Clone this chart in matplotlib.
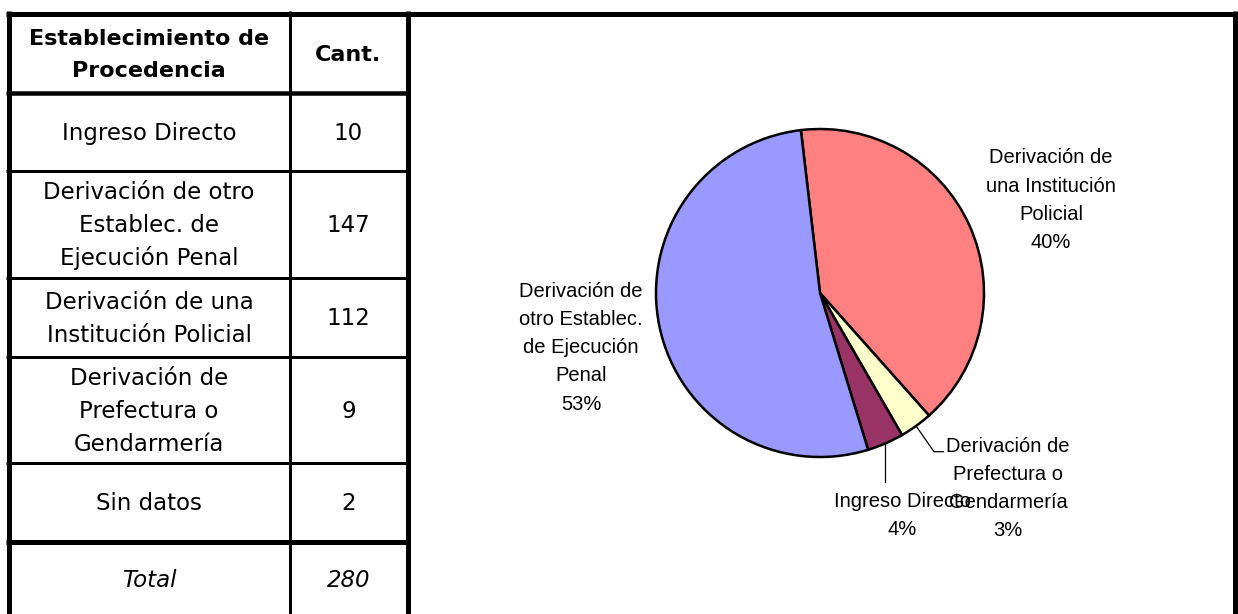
import matplotlib
matplotlib.use("Agg")
import matplotlib.pyplot as plt
import numpy as np

# ---------------- data ----------------
header_labels = ["Establecimiento de\nProcedencia", "Cant."]
table_labels = ["Ingreso Directo",
                "Derivación de otro\nEstablec. de\nEjecución Penal",
                "Derivación de una\nInstitución Policial",
                "Derivación de\nPrefectura o\nGendarmería",
                "Sin datos"]
table_counts = [10, 147, 112, 9, 2]
total_label = "Total"

pie_labels = ["Derivación de\nuna Institución\nPolicial",
              "Derivación de\nPrefectura o\nGendarmería",
              "Ingreso Directo",
              "Derivación de\notro Establec.\nde Ejecución\nPenal"]
pie_values = [112, 9, 10, 147]
pie_colors = ["#FF8080", "#FFFFCC", "#993366", "#9999FF"]

# ---------------- layout ----------------
W, H = 1238, 614
fig = plt.figure(figsize=(W / 100, H / 100), dpi=100)
ax = fig.add_axes([0, 0, 1, 1])


def Y(y):
    return H - y


def lw(px):
    return px * 0.72


def draw_lines(x, first_baseline, text, spacing, **kw):
    for i, line in enumerate(text.split("\n")):
        ax.text(x, Y(first_baseline + i * spacing), line, ha="center",
                va="baseline", **kw)


# pie
pie_center = (820, Y(293))
pie_radius = 164
wedges, _ = ax.pie(pie_values, colors=pie_colors, startangle=96.7,
                   counterclock=False, center=pie_center, radius=pie_radius,
                   wedgeprops=dict(edgecolor="black", linewidth=1.8),
                   frame=True)
ax.set_xlim(0, W)
ax.set_ylim(0, H)
ax.set_aspect("auto")
ax.axis("off")

# table grid
row_edges = [13.5, 92.5, 170.5, 277.5, 356.5, 462.5, 541.5]
row_line_px = [5, 4.5, 3, 3, 3, 3, 5]
col_edges = [8.5, 289.5, 407.5]
col_line_px = [5, 3, 5]
box_right = 1234.5

for y, p in zip(row_edges, row_line_px):
    x1 = box_right + 2.5 if y == row_edges[0] else col_edges[-1]
    ax.plot([col_edges[0] - 2.5, x1], [Y(y), Y(y)], color="black",
            lw=lw(p), solid_capstyle="butt")
for x, p in zip(col_edges + [box_right], col_line_px + [5]):
    ax.plot([x, x], [Y(row_edges[0] - 2.5), Y(H + 10)], color="black",
            lw=lw(p), solid_capstyle="butt")

col_centers = [(col_edges[0] + col_edges[1]) / 2, (col_edges[1] + col_edges[2]) / 2]
row_edges_full = row_edges + [616]

tfont = dict(family="DejaVu Sans", fontsize=16.5, color="black")
cap_t = 16.7
sp_t = 33


def cell_text(col, row, text, **kw):
    yc = (row_edges_full[row] + row_edges_full[row + 1]) / 2
    n = len(text.split("\n"))
    first = yc - (n - 1) / 2 * sp_t + cap_t / 2
    draw_lines(col_centers[col], first, text, sp_t, **kw)


hfont = dict(family="DejaVu Sans", fontsize=16, fontweight="bold", color="black")
for c, lab in enumerate(header_labels):
    yc = (row_edges_full[0] + row_edges_full[1]) / 2
    n = len(lab.split("\n"))
    first = yc - (n - 1) / 2 * 32.5 + 8
    draw_lines(col_centers[c], first, lab, 32.5, **hfont)

for i, (lab, v) in enumerate(zip(table_labels, table_counts)):
    cell_text(0, i + 1, lab, **tfont)
    cell_text(1, i + 1, str(v), **tfont)
cell_text(0, len(table_labels) + 1, total_label, style="italic", **tfont)
cell_text(1, len(table_labels) + 1, str(sum(table_counts)), style="italic", **tfont)

# pie labels
total_pie = sum(pie_values)
label_x = [1051, 1008, 902, 581]
label_first_baseline = [163.3, 451.7, 506.7, 296.7]
pfont = dict(family="Liberation Sans", fontsize=14.5, color="black")
for lab, v, x, b in zip(pie_labels, pie_values, label_x, label_first_baseline):
    txt = lab + "\n" + f"{round(100 * v / total_pie)}%"
    draw_lines(x, b, txt, 28.2, **pfont)

# leader lines
def edge_point(w):
    t = np.deg2rad((w.theta1 + w.theta2) / 2)
    return (pie_center[0] + pie_radius * np.cos(t),
            pie_center[1] + pie_radius * np.sin(t))

sx, sy = edge_point(wedges[1])
ax.plot([sx, 934, 943.3], [sy, Y(451.7), Y(451.7)], color="black", lw=0.9)
sx, sy = edge_point(wedges[2])
ax.plot([sx, sx], [sy, Y(481.7)], color="black", lw=0.9)

fig.savefig("out.png", dpi=100)
